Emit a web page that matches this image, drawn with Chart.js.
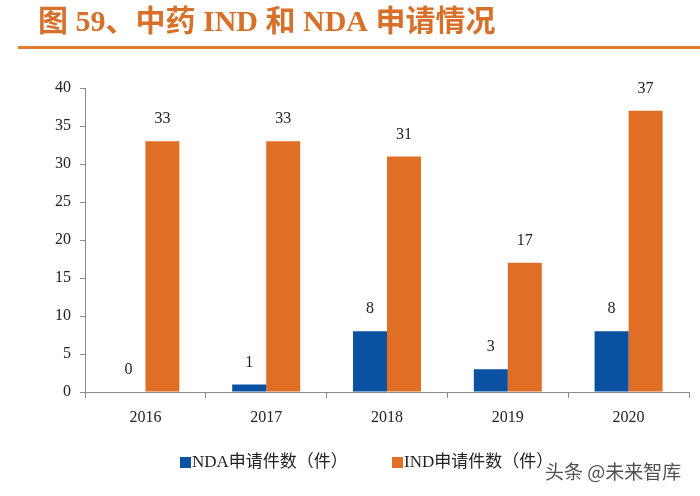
<!DOCTYPE html>
<html>
<head>
<meta charset="utf-8">
<script src="https://cdn.jsdelivr.net/npm/chart.js@4.4.1/dist/chart.umd.min.js"></script>
<style>
  html, body { margin: 0; padding: 0; background: #fff; }
  #wrap { width: 700px; height: 496px; position: relative; }
</style>
</head>
<body>
<div id="wrap"><canvas id="c" width="700" height="496"></canvas></div>
<script>
const titleText = "图 59、中药 IND 和 NDA 申请情况";
const categories = ["2016", "2017", "2018", "2019", "2020"];
const ndaValues = [0, 1, 8, 3, 8];
const indValues = [33, 33, 31, 17, 37];
const seriesNames = ["NDA申请件数（件）", "IND申请件数（件）"];
const yTicks = [0, 5, 10, 15, 20, 25, 30, 35, 40];
const watermark = "头条 @未来智库";

const BLUE = "#0b51a1";
const ORANGE = "#e06e24";
const AXIS = "#8c8c8c";
const SERIF = "'Liberation Serif', 'Noto Sans CJK SC', serif";
const MIX = "'Liberation Serif', 'Noto Sans CJK SC', serif";

const decor = {
  id: "decor",
  afterDraw(chart) {
    const ctx = chart.ctx;
    ctx.save();
    // title
    ctx.fillStyle = "#d8702a";
    ctx.font = "bold 30px " + MIX;
    ctx.textBaseline = "middle";
    ctx.textAlign = "left";
    ctx.fillText(titleText, 38, 23);
    // underline
    ctx.fillStyle = "#e27b2e";
    ctx.fillRect(18, 46, 682, 3);

    // data labels
    ctx.fillStyle = "#222";
    ctx.font = "16px " + SERIF;
    ctx.textAlign = "center";
    ctx.textBaseline = "middle";
    chart.data.datasets.forEach((ds, di) => {
      const meta = chart.getDatasetMeta(di);
      meta.data.forEach((bar, i) => {
        ctx.fillText(String(ds.data[i]), bar.x, bar.y - 22);
      });
    });

    // legend
    ctx.font = "17px " + MIX;
    ctx.textAlign = "left";
    ctx.textBaseline = "middle";
    const legendX = [180, 392];
    chart.data.datasets.forEach((ds, di) => {
      ctx.fillStyle = ds.backgroundColor;
      ctx.fillRect(legendX[di], 457, 11, 11);
      ctx.fillStyle = "#222";
      ctx.fillText(ds.label, legendX[di] + 12, 463);
    });

    // watermark
    ctx.globalAlpha = 0.85;
    ctx.fillStyle = "#333";
    ctx.font = "19px 'Noto Sans CJK SC', sans-serif";
    ctx.fillText(watermark, 545, 472);
    ctx.restore();
  }
};

new Chart(document.getElementById("c"), {
  type: "bar",
  data: {
    labels: categories,
    datasets: [
      { label: seriesNames[0], data: ndaValues, backgroundColor: BLUE },
      { label: seriesNames[1], data: indValues, backgroundColor: ORANGE }
    ]
  },
  options: {
    responsive: false,
    animation: false,
    devicePixelRatio: 1,
    layout: { padding: { left: 0, right: 11, top: 88, bottom: 0 } },
    plugins: { legend: { display: false }, tooltip: { enabled: false }, title: { display: false } },
    datasets: { bar: { categoryPercentage: 0.563, barPercentage: 1.0 } },
    scales: {
      x: {
        grid: { display: true, drawOnChartArea: false, drawTicks: true, tickLength: 6, color: AXIS, offset: true },
        border: { display: true, color: AXIS, width: 1 },
        ticks: { color: "#222", font: { family: SERIF, size: 16 }, padding: 10, maxRotation: 0 },
        afterFit(scale) { scale.height = 104; }
      },
      y: {
        min: 0, max: 40,
        afterBuildTicks(scale) { scale.ticks = yTicks.map(v => ({ value: v })); },
        grid: { display: true, drawOnChartArea: false, drawTicks: true, tickLength: 5, color: AXIS },
        border: { display: true, color: AXIS, width: 1 },
        ticks: { color: "#222", font: { family: SERIF, size: 16 }, padding: 9 },
        afterFit(scale) { scale.width = 85; }
      }
    }
  },
  plugins: [decor]
});
</script>
</body>
</html>
